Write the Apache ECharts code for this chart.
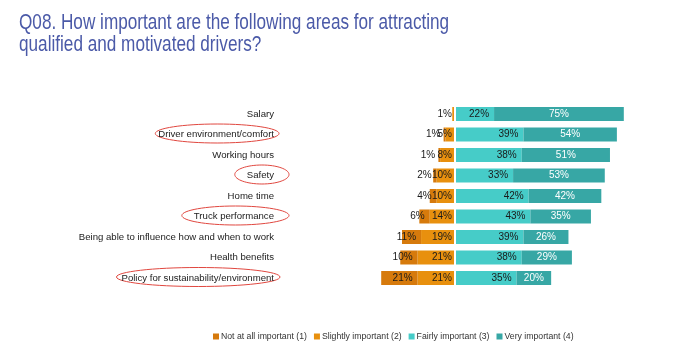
<!DOCTYPE html>
<html>
<head>
<meta charset="utf-8">
<script src="https://cdn.jsdelivr.net/npm/echarts@6/dist/echarts.min.js"></script>
<style>
html,body{margin:0;padding:0;background:#fff;}
#chart{width:684px;height:357px;}
</style>
</head>
<body>
<div id="chart"></div>
<script>
const categories = ['Salary','Driver environment/comfort','Working hours','Safety','Home time','Truck performance','Being able to influence how and when to work','Health benefits','Policy for sustainability/environment'];
const notAtAll = [0,1,1,2,4,6,11,10,21];
const slightly = [1,5,8,10,10,14,19,21,21];
const fairly = [22,39,38,33,42,43,39,38,35];
const very = [75,54,51,53,42,35,26,29,20];
const seriesNames = ['Not at all important (1)','Slightly important (2)','Fairly important (3)','Very important (4)'];
const circled = ['Driver environment/comfort','Safety','Truck performance','Policy for sustainability/environment'];
const titleText = 'Q08. How important are the following areas for attracting\nqualified and motivated drivers?';

const colors = ['#d67a0c','#e8900e','#46ccc8','#37a7a5'];
const FONT = '"Liberation Sans", Arial, Helvetica, sans-serif';
const CAT_FS = 9.6;
const chart = echarts.init(document.getElementById('chart'));

const labelFmt = p => (Math.abs(p.value) === 0 ? '' : Math.abs(p.value) + '%');
const baseLabel = {show:true, fontFamily:FONT, fontSize:10, color:'#1a1a1a', formatter:labelFmt};

const gridTop = 103.75, gridH = 184.5;
const leftGrid = {left:376, top:gridTop, width:78, height:gridH};
const rightGrid = {left:456, top:gridTop, width:173, height:gridH};
const labelMargin = 102;

chart.setOption({
  animation:false,
  legend:{
    data:seriesNames,
    left:213, top:332, padding:0,
    itemWidth:6, itemHeight:6, itemGap:7, icon:'rect',
    textStyle:{fontFamily:FONT, fontSize:8.7, color:'#333', padding:[0,0,0,-3]}
  },
  grid:[leftGrid, rightGrid],
  xAxis:[
    {gridIndex:0, type:'value', min:-45, max:0, show:false},
    {gridIndex:1, type:'value', min:0, max:100, show:false}
  ],
  yAxis:[
    {gridIndex:0, type:'category', data:categories, inverse:true,
      axisLine:{show:false}, axisTick:{show:false}, splitLine:{show:false},
      axisLabel:{margin:labelMargin, fontFamily:FONT, fontSize:CAT_FS, color:'#222'}},
    {gridIndex:1, type:'category', data:categories, inverse:true, show:false}
  ],
  series:[
    {name:seriesNames[1], type:'bar', xAxisIndex:0, yAxisIndex:0, stack:'neg', barWidth:14,
      itemStyle:{color:colors[1]}, data:slightly.map(v=>-v),
      label:Object.assign({}, baseLabel, {position:'insideRight', distance:2})},
    {name:seriesNames[0], type:'bar', xAxisIndex:0, yAxisIndex:0, stack:'neg', barWidth:14,
      itemStyle:{color:colors[0]}, data:notAtAll.map(v=>-v),
      label:Object.assign({}, baseLabel, {position:'insideRight', distance:5})},
    {name:seriesNames[2], type:'bar', xAxisIndex:1, yAxisIndex:1, stack:'pos', barWidth:14,
      itemStyle:{color:colors[2]}, data:fairly,
      label:Object.assign({}, baseLabel, {position:'insideRight', distance:5})},
    {name:seriesNames[3], type:'bar', xAxisIndex:1, yAxisIndex:1, stack:'pos', barWidth:14,
      itemStyle:{color:colors[3]}, data:very,
      label:Object.assign({}, baseLabel, {position:'inside', color:'#ffffff'})}
  ]
});

// title (condensed look) + red ellipses around selected category labels
const ctx = document.createElement('canvas').getContext('2d');
ctx.font = CAT_FS + 'px ' + FONT;
const pads = {'Driver environment/comfort':[3,5], 'Safety':[12,15], 'Truck performance':[12,15], 'Policy for sustainability/environment':[5,6]};
const labelRight = leftGrid.left - labelMargin;
const graphics = circled.map(name => {
  const idx = categories.indexOf(name);
  const y = chart.convertToPixel({yAxisIndex:0}, idx);
  const w = ctx.measureText(name).width;
  const p = pads[name];
  const x0 = labelRight - w - p[0], x1 = labelRight + p[1];
  return {type:'ellipse', shape:{cx:(x0+x1)/2, cy:y-1, rx:(x1-x0)/2, ry:9.5},
    style:{fill:'none', stroke:'#e0473f', lineWidth:1}, silent:true};
});
graphics.push({type:'text', x:19, y:12, scaleX:0.78, silent:true,
  style:{text:titleText, fontFamily:FONT, fontSize:22, lineHeight:22, fill:'#4b5aa8', verticalAlign:'top'}});
chart.setOption({graphic:graphics});
</script>
</body>
</html>
